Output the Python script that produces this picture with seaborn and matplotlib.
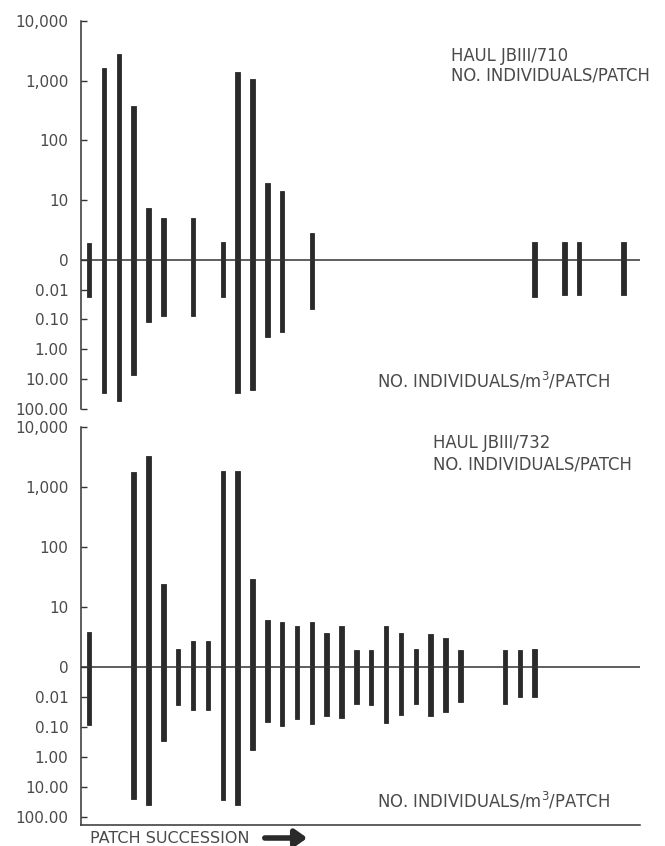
import numpy as np
import pandas as pd
import matplotlib
matplotlib.use("Agg")
import matplotlib.pyplot as plt
import seaborn as sns


# 1 DATA

# haul JBIII/710
patch_710 = [1, 2, 3, 4, 5, 6, 8, 10, 11, 12, 13, 14, 16, 31, 33, 34, 37]
count_710 = [1.9, 1600, 2800, 370, 7.4, 5.0, 5.0, 2.0, 1380, 1080, 19.7, 14.1, 2.8,
             2.0, 2.0, 2.0, 2.0]
density_710 = [0.017, 29, 54, 7.2, 0.12, 0.076, 0.075, 0.017, 28, 23, 0.38, 0.26, 0.046,
               0.017, 0.0155, 0.0155, 0.0155]

# haul JBIII/732
patch_732 = [1, 4, 5, 6, 7, 8, 9, 10, 11, 12, 13, 14, 15, 16, 17, 18, 19, 20,
             21, 22, 23, 24, 25, 26, 29, 30, 31]
count_732 = [3.8, 1780, 3380, 24.5, 2.0, 2.7, 2.7, 1900, 1900, 29.7, 6.0, 5.7, 4.9,
             5.7, 3.7, 4.8, 1.95, 1.95, 4.8, 3.7, 2.0, 3.5, 3.0, 1.95, 1.9, 1.9, 2.0]
density_732 = [0.087, 26, 41, 0.29, 0.019, 0.027, 0.027, 27, 41, 0.6, 0.068, 0.092,
               0.055, 0.08, 0.044, 0.052, 0.017, 0.019, 0.077, 0.04, 0.018, 0.044,
               0.032, 0.015, 0.017, 0.01, 0.01]

haul_names = ["HAUL JBIII/710", "HAUL JBIII/732"]

ytick_pos = [-2.5, -2, -1.5, -1, -0.5, 0, 1, 2, 3, 4]
ytick_labels = ["100.00", "10.00", "1.00", "0.10", "0.01", "0", "10", "100",
                "1,000", "10,000"]


# 2 STYLE

sns.set_style("ticks")
plt.rcParams["font.family"] = ["DejaVu Sans"]
plt.rcParams["mathtext.default"] = "regular"

ink = "#2a2a2a"
text_col = "#4a4a4a"

fig = plt.figure(figsize=(6.65, 8.46), dpi=100)

ax_top = fig.add_axes([0.1218, 0.5165, 0.8406, 0.4587])
ax_bot = fig.add_axes([0.1218, 0.0248, 0.8406, 0.4701])


# 3 DRAW ONE PANEL

def draw_panel(ax, patches, counts, dens, ylow):
    df = pd.DataFrame({"patch": patches, "count": counts, "density": dens})
    # upper half: log10 of individuals/patch (1 sits on the zero line)
    df["up"] = np.log10(df["count"])
    # lower half: individuals/m3, half a unit per decade, 0.001 on the zero line
    df["down"] = -(np.log10(df["density"]) + 3) / 2

    sns.barplot(data=df, x="patch", y="up", native_scale=True, orient="x",
                width=0.3, color=ink, saturation=1, errorbar=None, ax=ax,
                edgecolor=ink, linewidth=0.6)
    sns.barplot(data=df, x="patch", y="down", native_scale=True, orient="x",
                width=0.3, color=ink, saturation=1, errorbar=None, ax=ax,
                edgecolor=ink, linewidth=0.6)

    ax.axhline(0, color="#333333", lw=1.1, zorder=3)

    ax.set_xlim(0.45, 38.1)
    ax.set_ylim(ylow, 4)
    ax.set_xticks([])
    ax.set_yticks(ytick_pos)
    ax.set_yticklabels(ytick_labels)
    ax.set_xlabel("")
    ax.set_ylabel("")
    ax.tick_params(axis="y", direction="in", length=4, width=1, color="#333333",
                   labelsize=11, labelcolor=text_col, pad=9)
    for s in ["top", "right"]:
        ax.spines[s].set_visible(False)
    ax.spines["left"].set_color("#333333")
    ax.spines["left"].set_linewidth(1.1)


draw_panel(ax_top, patch_710, count_710, density_710, -2.5)
draw_panel(ax_bot, patch_732, count_732, density_732, -2.64)

ax_top.spines["bottom"].set_visible(False)
ax_bot.spines["bottom"].set_color("#333333")
ax_bot.spines["bottom"].set_linewidth(1.1)


# 4 LABELS

W, H = 665, 846


def ftext(x, y, s, size=11.9):
    fig.text(x / W, 1 - y / H, s, fontsize=size, color=text_col, va="center",
             ha="left")


ftext(451, 56, haul_names[0])
ftext(451, 76, "NO. INDIVIDUALS/PATCH")
ftext(377, 381, "NO. INDIVIDUALS/m$^{3}$/PATCH")

ftext(433, 443, haul_names[1])
ftext(433, 464, "NO. INDIVIDUALS/PATCH")
ftext(377, 801, "NO. INDIVIDUALS/m$^{3}$/PATCH")

ftext(90, 838, "PATCH SUCCESSION", size=11.5)
fig.patches.append(matplotlib.patches.FancyArrowPatch(
    (262 / W, 1 - 838 / H), (310 / W, 1 - 838 / H), transform=fig.transFigure,
    arrowstyle="-|>,head_length=7,head_width=5", mutation_scale=1,
    color=ink, lw=4))

fig.savefig("out.png", dpi=100)
